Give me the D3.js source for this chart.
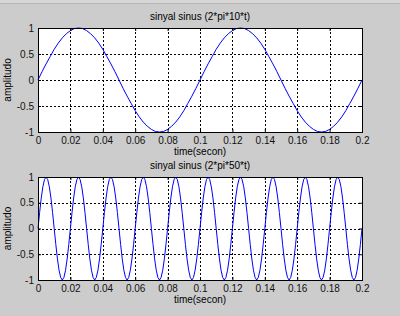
<!DOCTYPE html>
<html>
<head>
<meta charset="utf-8">
<script src="https://cdn.jsdelivr.net/npm/d3@7"></script>
<style>
  body { margin: 0; background: #cccccc; }
  svg { display: block; }
</style>
</head>
<body>
<div id="fig"></div>
<script>
// sample spacing (seconds) of the two signals
var stepTop = 0.0025;
var stepBottom = 0.001;

// amplitude (10 Hz)
var ampTop = [
  0, .16, .31, .45, .59, .71, .81, .89, .95, .99,
  1, .99, .95, .89, .81, .71, .59, .45, .31, .16,
  0, -.16, -.31, -.45, -.59, -.71, -.81, -.89, -.95, -.99,
  -1, -.99, -.95, -.89, -.81, -.71, -.59, -.45, -.31, -.16,
  0, .16, .31, .45, .59, .71, .81, .89, .95, .99,
  1, .99, .95, .89, .81, .71, .59, .45, .31, .16,
  0, -.16, -.31, -.45, -.59, -.71, -.81, -.89, -.95, -.99,
  -1, -.99, -.95, -.89, -.81, -.71, -.59, -.45, -.31, -.16,
  0
];

// amplitude (50 Hz)
var ampBottom = [
  0, .31, .59, .81, .95, 1, .95, .81, .59, .31, 0, -.31, -.59, -.81, -.95, -1, -.95, -.81, -.59, -.31,
  0, .31, .59, .81, .95, 1, .95, .81, .59, .31, 0, -.31, -.59, -.81, -.95, -1, -.95, -.81, -.59, -.31,
  0, .31, .59, .81, .95, 1, .95, .81, .59, .31, 0, -.31, -.59, -.81, -.95, -1, -.95, -.81, -.59, -.31,
  0, .31, .59, .81, .95, 1, .95, .81, .59, .31, 0, -.31, -.59, -.81, -.95, -1, -.95, -.81, -.59, -.31,
  0, .31, .59, .81, .95, 1, .95, .81, .59, .31, 0, -.31, -.59, -.81, -.95, -1, -.95, -.81, -.59, -.31,
  0, .31, .59, .81, .95, 1, .95, .81, .59, .31, 0, -.31, -.59, -.81, -.95, -1, -.95, -.81, -.59, -.31,
  0, .31, .59, .81, .95, 1, .95, .81, .59, .31, 0, -.31, -.59, -.81, -.95, -1, -.95, -.81, -.59, -.31,
  0, .31, .59, .81, .95, 1, .95, .81, .59, .31, 0, -.31, -.59, -.81, -.95, -1, -.95, -.81, -.59, -.31,
  0, .31, .59, .81, .95, 1, .95, .81, .59, .31, 0, -.31, -.59, -.81, -.95, -1, -.95, -.81, -.59, -.31,
  0, .31, .59, .81, .95, 1, .95, .81, .59, .31, 0, -.31, -.59, -.81, -.95, -1, -.95, -.81, -.59, -.31,
  0
];

var xTicks = [0, 0.02, 0.04, 0.06, 0.08, 0.1, 0.12, 0.14, 0.16, 0.18, 0.2];
var xTickLabels = ["0", "0.02", "0.04", "0.06", "0.08", "0.1", "0.12", "0.14", "0.16", "0.18", "0.2"];
var yTicks = [-1, -0.5, 0, 0.5, 1];
var yTickLabels = ["-1", "-0.5", "0", "0.5", "1"];

var titles = ["sinyal sinus (2*pi*10*t)", "sinyal sinus (2*pi*50*t)"];
var xLabel = "time(secon)";
var yLabel = "amplitudo";

var W = 400, H = 316;

var svg = d3.select("#fig")
    .append("svg")
    .attr("width", W)
    .attr("height", H)
    .attr("font-family", "'Liberation Sans', Arial, sans-serif")
    .attr("font-size", 10);

svg.append("rect").attr("width", W).attr("height", H).attr("fill", "#cccccc");
svg.append("rect").attr("width", W).attr("height", 3).attr("fill", "#d6d6d6");
svg.append("line").attr("x1", 0).attr("x2", W).attr("y1", 3.5).attr("y2", 3.5)
    .attr("stroke", "#b8b8b8");

var panels = [
  {top: 28, height: 104, amp: ampTop, step: stepTop, title: titles[0]},
  {top: 177, height: 103, amp: ampBottom, step: stepBottom, title: titles[1]}
];

var left = 38, pw = 324;

panels.forEach(function(p) {
  var x = d3.scaleLinear().domain([0, 0.2]).range([left, left + pw]);
  var y = d3.scaleLinear().domain([-1, 1]).range([p.top + p.height, p.top]);
  var g = svg.append("g");

  g.append("rect")
      .attr("x", left).attr("y", p.top)
      .attr("width", pw).attr("height", p.height)
      .attr("fill", "white");

  // dotted grid
  g.selectAll(".vgrid")
      .data(xTicks.slice(1, -1))
      .enter().append("line")
      .attr("x1", d => Math.round(x(d)) + 0.5).attr("x2", d => Math.round(x(d)) + 0.5)
      .attr("y1", p.top).attr("y2", p.top + p.height)
      .attr("stroke", "black").attr("stroke-dasharray", "2,2");
  g.selectAll(".hgrid")
      .data(yTicks.slice(1, -1))
      .enter().append("line")
      .attr("x1", left).attr("x2", left + pw)
      .attr("y1", d => Math.round(y(d)) + 0.5).attr("y2", d => Math.round(y(d)) + 0.5)
      .attr("stroke", "black").attr("stroke-dasharray", "2,2");

  // the signal
  var line = d3.line()
      .x(function(d, i) { return x(i * p.step); })
      .y(function(d) { return y(d); });
  g.append("path")
      .datum(p.amp)
      .attr("d", line)
      .attr("fill", "none")
      .attr("stroke", "#0000ff")
      .attr("stroke-width", 1);

  // axes with inward ticks
  var bottom = g.append("g")
      .attr("transform", "translate(0," + (p.top + p.height) + ")")
      .call(d3.axisBottom(x).tickValues(xTicks)
          .tickFormat((d, i) => xTickLabels[i])
          .tickSizeInner(-3).tickSizeOuter(0).tickPadding(5));
  g.append("g")
      .attr("transform", "translate(0," + p.top + ")")
      .call(d3.axisTop(x).tickValues(xTicks).tickFormat("")
          .tickSizeInner(-3).tickSizeOuter(0));
  var leftAx = g.append("g")
      .attr("transform", "translate(" + left + ",0)")
      .call(d3.axisLeft(y).tickValues(yTicks)
          .tickFormat((d, i) => yTickLabels[i])
          .tickSizeInner(-3).tickSizeOuter(0).tickPadding(4));
  g.append("g")
      .attr("transform", "translate(" + (left + pw) + ",0)")
      .call(d3.axisRight(y).tickValues(yTicks).tickFormat("")
          .tickSizeInner(-3).tickSizeOuter(0));

  g.selectAll(".domain").remove();
  g.selectAll(".tick text")
      .attr("font-family", "'Liberation Sans', Arial, sans-serif")
      .attr("font-size", 10).attr("fill", "#111");

  g.append("rect")
      .attr("x", left + 0.5).attr("y", p.top + 0.5)
      .attr("width", pw).attr("height", p.height)
      .attr("fill", "none").attr("stroke", "black");

  g.append("text")
      .attr("x", 200).attr("y", p.top - 8)
      .attr("text-anchor", "middle")
      .text(p.title);
  g.append("text")
      .attr("x", 200).attr("y", p.top + p.height + 23)
      .attr("text-anchor", "middle")
      .text(xLabel);
  g.append("text")
      .attr("transform", "translate(11," + (p.top + p.height / 2) + ") rotate(-90)")
      .attr("text-anchor", "middle")
      .text(yLabel);
});
</script>
</body>
</html>
